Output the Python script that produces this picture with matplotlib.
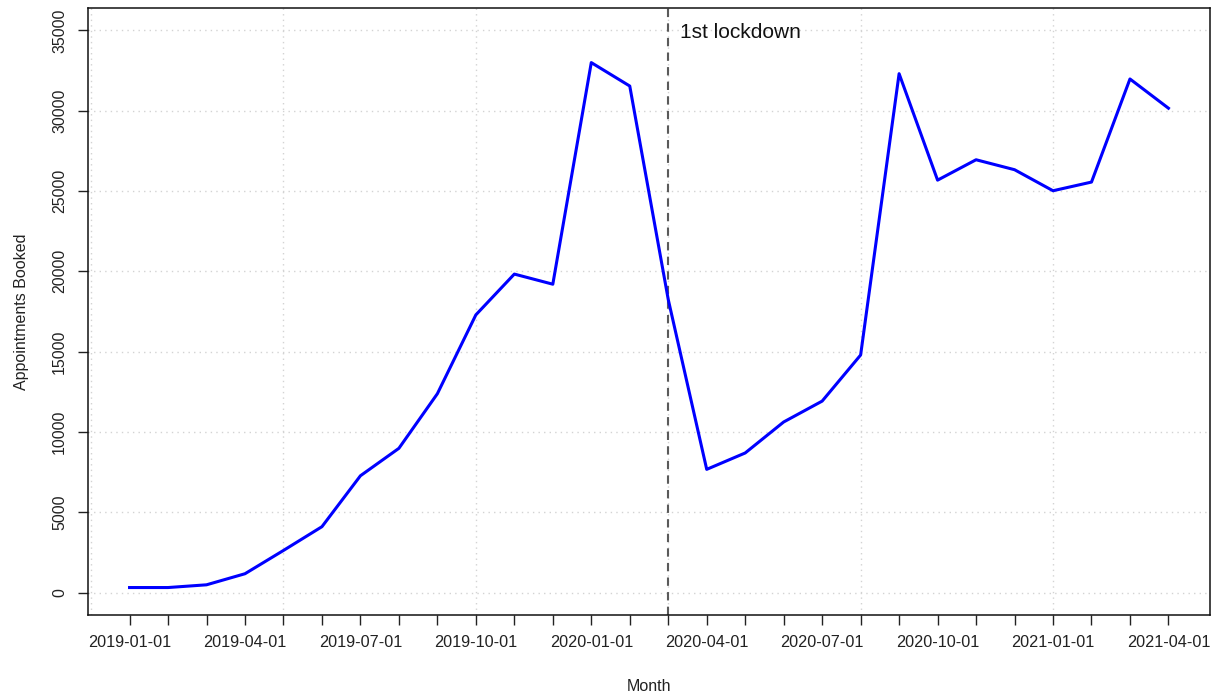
import matplotlib
matplotlib.use("Agg")
import matplotlib.pyplot as plt

plt.rcParams["font.family"] = ["Liberation Sans", "DejaVu Sans"]

months = [
    "2019-01-01", "2019-02-01", "2019-03-01", "2019-04-01", "2019-05-01", "2019-06-01",
    "2019-07-01", "2019-08-01", "2019-09-01", "2019-10-01", "2019-11-01", "2019-12-01",
    "2020-01-01", "2020-02-01", "2020-03-01", "2020-04-01", "2020-05-01", "2020-06-01",
    "2020-07-01", "2020-08-01", "2020-09-01", "2020-10-01", "2020-11-01", "2020-12-01",
    "2021-01-01", "2021-02-01", "2021-03-01", "2021-04-01",
]
booked = [
    310, 310, 480, 1170, 2620, 4100, 7270, 8980, 12380, 17290, 19830, 19200,
    33000, 31540, 18250, 7670, 8690, 10620, 11920, 14790, 32310, 25680, 26950,
    26330, 25020, 25560, 31980, 30160,
]
lockdown_month = "2020-03-01"
y_ticks = [0, 5000, 10000, 15000, 20000, 25000, 30000, 35000]
x_grid = [0, 5, 10, 15, 20, 25]

idx = list(range(1, len(months) + 1))
lock_idx = months.index(lockdown_month) + 1

fig = plt.figure(figsize=(12.2, 6.98), dpi=100)
ax = fig.add_axes([88 / 1220, 83 / 698, 1122 / 1220, 607 / 698])

# R-style plot: pad limits 4%
n = len(idx)
pad = (n - 1) * 0.04
ax.set_xlim(1 - pad, n + pad)
ax.set_ylim(-0.04 * 35000, 35000 * 1.04)

for g in x_grid:
    ax.axvline(g, color="#d3d3d3", lw=1, ls=(0, (1, 3)), zorder=0)
for g in y_ticks:
    ax.axhline(g, color="#d3d3d3", lw=1, ls=(0, (1, 3)), zorder=0)

ax.plot(idx, booked, color="#0000ff", lw=2.2, zorder=3)
ax.axvline(lock_idx, color="#5a5a5a", lw=1.5, ls=(0, (4, 3)), zorder=2)
ax.text(lock_idx + 0.3, 34850, "1st lockdown", fontsize=15, va="center", ha="left", color="#111")

ax.set_xticks(idx)
ax.set_xticklabels([m if i % 3 == 0 else "" for i, m in enumerate(months)], fontsize=11.7, color="#222")
ax.set_yticks(y_ticks)
ax.set_yticklabels([str(v) for v in y_ticks], fontsize=11.5, color="#222", rotation=90, va="center")
ax.tick_params(axis="both", direction="out", length=7.5, width=1, color="#222")
ax.tick_params(axis="x", pad=7)
ax.tick_params(axis="y", pad=7.5)

ax.set_xlabel("Month", fontsize=11.5, color="#222", labelpad=21)
ax.set_ylabel("Appointments Booked", fontsize=11.5, color="#222", labelpad=17)

for s in ax.spines.values():
    s.set_linewidth(1.1)
    s.set_color("#111")

fig.savefig("out.png", dpi=100)
